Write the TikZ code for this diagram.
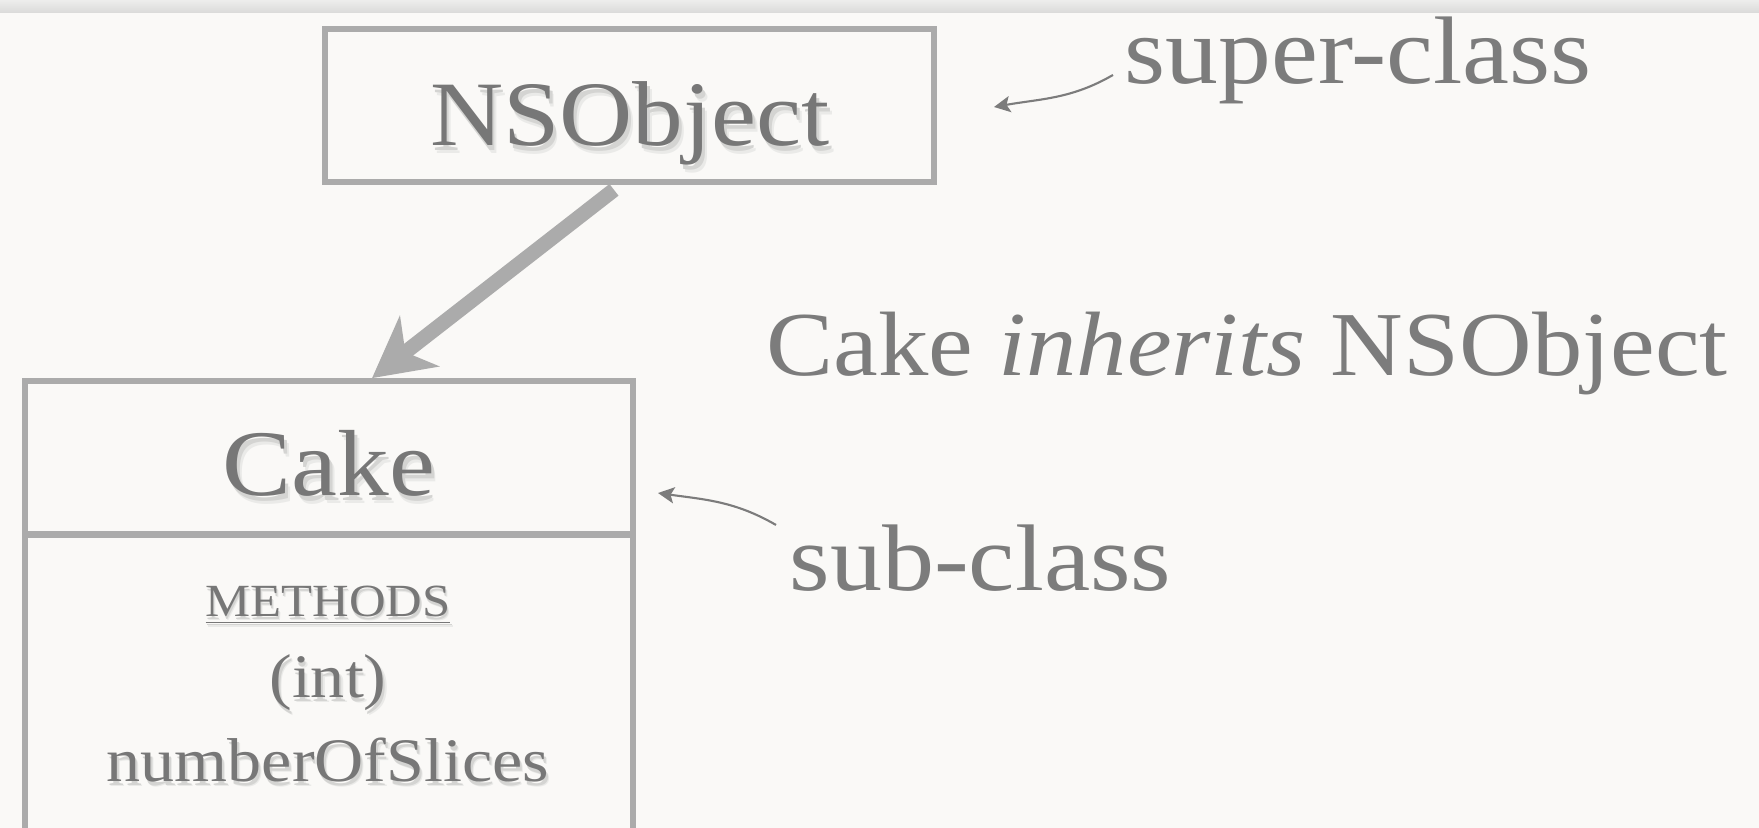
\documentclass[tikz,border=0pt]{standalone}
\usepackage{fontspec}
\setmainfont{Liberation Serif}[FakeStretch=1.1]
\usetikzlibrary{arrows.meta}

\definecolor{paper}{HTML}{FAF9F7}
\definecolor{bandtop}{HTML}{EDEDEC}
\definecolor{bandbot}{HTML}{DADAD9}
\definecolor{boxline}{HTML}{ABABAB}
\definecolor{inkgray}{HTML}{777777}
\definecolor{notegray}{HTML}{7C7C7C}
\definecolor{shadenear}{HTML}{D4D4D2}
\definecolor{shadefar}{HTML}{EAEAE8}

% text with a soft drop shadow below and to the right
\newcommand\softshadow[1]{%
  \makebox[0pt][l]{\hspace{0.05em}\raisebox{-0.08em}{\color{shadefar}#1}}%
  \makebox[0pt][l]{\hspace{0.03em}\raisebox{-0.05em}{\color{shadenear}#1}}%
  #1}

\tikzset{
  classbox/.style={draw=boxline, line width=1.6pt, rectangle, inner sep=0pt},
  boxtext/.style={text=inkgray, inner sep=0pt, anchor=base},
  note/.style={text=notegray, inner sep=0pt, anchor=base west},
  inherit/.style={draw=boxline, line width=4.2pt,
    -{Stealth[length=17pt, width=18pt, inset=5pt]}},
  pointer/.style={draw=notegray, line width=0.6pt,
    -{Stealth[length=4.6pt, width=4.6pt, inset=1pt]}},
}

\begin{document}
\begin{tikzpicture}[x=0.01cm, y=0.01cm]
  \useasboundingbox (0,0) rectangle (1759,-828);
  \clip (0,0) rectangle (1759,-828);
  % page background and top strip
  \fill[paper] (0,0) rectangle (1759,-828);
  \shade[top color=bandtop, bottom color=bandbot] (0,0) rectangle (1759,-13);

  % super-class box
  \node[classbox, minimum width=6.09cm, minimum height=1.53cm] (nsobj) at (629.5,-105.5) {};
  \node[boxtext, font=\fontsize{26.2}{31}\selectfont] (nsobjname) at (630,-146) {\softshadow{NSObject}};

  % sub-class box: name compartment and methods compartment
  \node[classbox, minimum width=6.08cm, minimum height=1.53cm] (cakehead) at (329,-457.5) {};
  \node[classbox, minimum width=6.08cm, minimum height=3.36cm] (cakebody) at (329,-703.5) {};
  \node[boxtext, font=\fontsize{26.7}{32}\selectfont] (cakename) at (329,-496) {\softshadow{Cake}};
  \node[boxtext, font=\fontsize{13.1}{16}\selectfont] (methods) at (328,-617) {\softshadow{\underline{METHODS}}};
  \node[boxtext, font=\fontsize{17.6}{21}\selectfont] (rettype) at (328,-698) {\softshadow{(int)}};
  \node[boxtext, font=\fontsize{17.6}{21}\selectfont] (slices) at (328,-782) {\softshadow{numberOfSlices}};

  % inheritance arrow
  \draw[inherit] ([xshift=-0.155cm, yshift=-0.05cm]nsobj.south) -- ([xshift=0.43cm]cakehead.north);

  % notes
  \node[note, font=\fontsize{27.3}{32}\selectfont] (superlbl) at (1124,-84) {super-class};
  \node[note, font=\fontsize{26}{31}\selectfont] (relation) at (766,-376) {Cake \textit{inherits} NSObject};
  \node[note, font=\fontsize{26.9}{32}\selectfont] (sublbl) at (789,-591) {sub-class};

  \draw[pointer] ([xshift=-0.11cm, yshift=0.09cm]superlbl.base west)
    to[out=210, in=10] ([xshift=0.57cm, yshift=-0.015cm]nsobj.east);
  \draw[pointer] ([xshift=-0.13cm, yshift=0.66cm]sublbl.base west)
    to[out=150, in=-8] ([xshift=0.22cm, yshift=-0.355cm]cakehead.east);
\end{tikzpicture}
\end{document}
